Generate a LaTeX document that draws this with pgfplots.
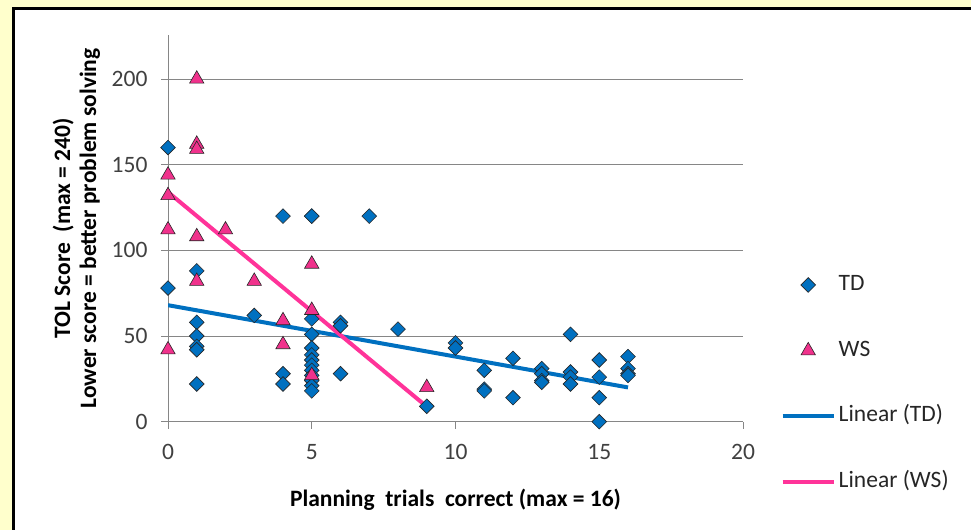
\documentclass[border=0pt]{standalone}
\usepackage{pgfplots}
\pgfplotsset{compat=1.18}
\usepackage{fontspec}
\setmainfont{Carlito}
\definecolor{bgyellow}{RGB}{255,255,204}
\definecolor{tdblue}{RGB}{0,112,192}
\definecolor{wspink}{RGB}{240,50,140}
\definecolor{wsline}{RGB}{255,51,153}
\definecolor{gridgray}{RGB}{134,134,134}
\begin{document}
\begin{tikzpicture}[x=1bp,y=1bp]
\useasboundingbox (0,0) rectangle (971,530);
\fill[bgyellow] (0,0) rectangle (971,530);
\begin{scope}
\clip (0,0) rectangle (971,530);
\filldraw[fill=white, draw=black, line width=3bp] (13.5,521.2) rectangle (1000,-20);
\end{scope}
\begin{axis}[
  at={(168bp,108.3bp)}, anchor=south west,
  scale only axis, width=575bp, height=386.7bp,
  xmin=0, xmax=20, ymin=0, ymax=225.7,
  axis x line*=bottom, axis y line*=left,
  axis line style={gridgray, line width=1bp, -},
  xtick={0,5,...,20}, ytick={0,50,...,200},
  tick align=outside, major tick length=7bp,
  tick style={gridgray, line width=1bp},
  ymajorgrids, grid style={gridgray, line width=1bp},
  ticklabel style={font=\fontsize{23.5bp}{28bp}\selectfont, text=black!75},
  yticklabel style={xshift=-10bp},
  xticklabel style={yshift=-12bp},
  /pgf/number format/assume math mode=true,
  label style={font=\bfseries\fontsize{23.5bp}{26bp}\selectfont},
  xlabel={Planning\ \ trials\ \ correct (max = 16)},
  xlabel style={at={(axis description cs:0.5,-0.2206)}, anchor=base},
  ylabel={TOL Score\ \ (max = 240)\\Lower score = better problem solving},
  ylabel style={align=center, at={(axis description cs:-0.1595,0.5)}, anchor=center},
  legend style={at={(1.0656,0.3807)}, anchor=north west, draw=none, fill=none,
    inner sep=0pt, outer sep=0pt, row sep=44.7bp, column sep=3bp,
    font=\fontsize{23.5bp}{28bp}\selectfont,
    nodes={inner sep=0pt, text height=16bp, text depth=5bp, text=black!85},
    cells={anchor=west}},
  legend image code/.code={\draw[mark repeat=2,mark phase=2,#1] plot coordinates {(0bp,0bp)(25.5bp,0bp)(51bp,0bp)};},
]
\addplot[only marks, mark=square*, mark size=5.2bp,
  mark options={rotate=45, fill=tdblue, draw=black!85, line width=0.6bp}]
coordinates {
(0,160)(0,78)
(1,88)(1,58)(1,50)(1,44)(1,42)(1,22)
(3,62)
(4,120)(4,28)(4,22)
(5,120)(5,120)(5,60)(5,51)(5,43)(5,39)(5,36)(5,33)(5,30)(5,27)(5,24)(5,21)(5,18)
(6,58)(6,56)(6,28)
(7,120)
(8,54)
(9,9)
(10,46)(10,43)
(11,30)(11,19)(11,18)
(12,37)(12,14)
(13,31)(13,28)(13,24)(13,23)
(14,51)(14,29)(14,26)(14,22)
(15,36)(15,26)(15,14)(15,0)
(16,38)(16,31)(16,28)(16,27)
};
\addlegendentry{TD}
\addplot[only marks, mark=triangle*, mark size=8.3bp,
  mark options={fill=wspink, draw=black!85, line width=0.6bp}]
coordinates {
(0,144)(0,132)(0,112)(0,42)
(1,200)(1,162)(1,159)(1,108)(1,82)
(2,112)(3,82)(4,59)(4,45)(5,92)(5,65)(5,27)(9,20)
};
\addlegendentry{WS}
\addplot[tdblue, line width=4bp, no marks] coordinates {(0,68)(16,20)};
\addlegendentry{Linear (TD)}
\addplot[wsline, line width=4bp, no marks] coordinates {(0,134)(9,8.8)};
\addlegendentry{Linear (WS)}
\end{axis}
\end{tikzpicture}
\end{document}
